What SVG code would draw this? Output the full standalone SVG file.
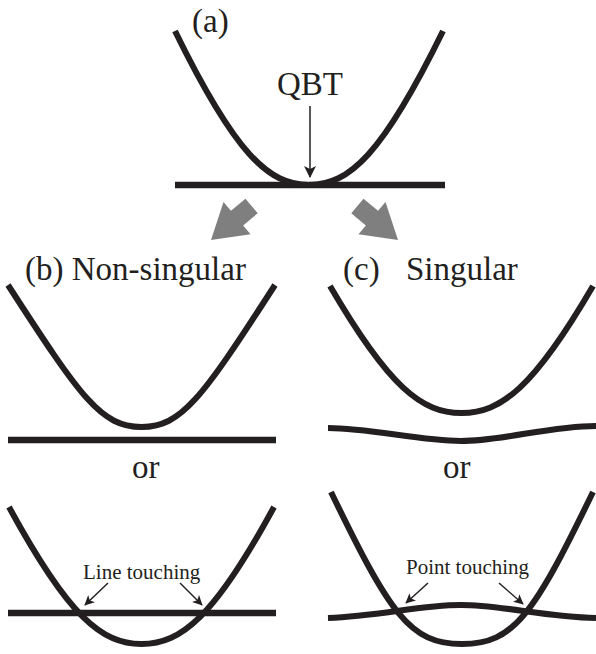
<svg xmlns="http://www.w3.org/2000/svg" width="596" height="654" viewBox="0 0 596 654">
<style>
.curve{fill:none;stroke:#231f20;stroke-width:6;stroke-linecap:butt}
.flat{fill:none;stroke:#231f20;stroke-width:6.5}
.lbl{font-family:"Liberation Serif","Times New Roman",serif;fill:#231f20}
.big{font-size:33px}
.small{font-size:21px}
.thin{fill:none;stroke:#231f20;stroke-width:1.5}
.gray{fill:#7f7f7f}
</style>
<defs>
<marker id="headL" viewBox="0 0 12 12" refX="11" refY="6" markerWidth="12" markerHeight="13" markerUnits="userSpaceOnUse" orient="auto">
<path d="M0,0 L12,6 L0,12 L3,6 z" fill="#231f20"/>
</marker>
<marker id="headS" viewBox="0 0 12 12" refX="11" refY="6" markerWidth="11" markerHeight="10" markerUnits="userSpaceOnUse" orient="auto">
<path d="M0,0 L12,6 L0,12 L3,6 z" fill="#231f20"/>
</marker>
</defs>
<g id="panel-a">
<path class="flat" d="M175,185 L445,185"/>
<path class="curve" d="M175,31 C235.3,154.2 268.8,185 309,185 C349.2,185 382.7,154.2 443,31"/>
<text class="lbl big" x="192" y="32">(a)</text>
<text class="lbl big" x="277" y="95">QBT</text>
</g>
<g id="panel-b-top">
<text class="lbl big" x="25" y="280">(b) Non-singular</text>
<path class="curve" d="M8,285 C81.4,398.6 101.45,427 141.5,427 C181.55,427 201.6,398.6 275,285"/>
<path class="flat" d="M8,440 L276,440"/>
</g>
<g id="panel-c-top">
<text class="lbl big" x="343" y="280">(c)</text>
<text class="lbl big" x="406" y="280">Singular</text>
<path class="curve" d="M330,286 C389.2,387.6 422,413 461.5,413 C501,413 533.8,387.6 593,286"/>
<path class="curve" d="M328,428 C370,428 420,441 461,441 C502,441 550,426 596,426"/>
</g>
<g id="or-b"><text class="lbl big" x="132" y="478">or</text></g>
<g id="or-c"><text class="lbl big" x="443" y="478">or</text></g>
<g id="panel-b-bottom">
<path class="curve" d="M9,507 C68.6,616.6 101.75,644 141.5,644 C181.25,644 214.4,616.6 274,507"/>
<path class="flat" d="M8,613 L276,613"/>
<text class="lbl small" x="83" y="579">Line touching</text>
</g>
<g id="panel-c-bottom">
<path class="curve" d="M331,492 C389.95,613.6 409.6,644 462,644 C514.4,644 534.05,613.6 593,492"/>
<path class="curve" d="M328,618 C380,616 420,605 461,605 C502,605 545,617 596,618"/>
<text class="lbl small" x="406" y="574">Point touching</text>
</g>
<g id="connectors">
<line class="thin" x1="310" y1="106" x2="310" y2="177" marker-end="url(#headL)"/>
<polygon class="gray" points="211,240 223.5,202.05 230.93,210.86 245.49,198.64 257.71,213.2 243.15,225.42 250.54,234.23"/>
<polygon class="gray" points="398,240 385.5,202.05 378.07,210.86 363.51,198.64 351.29,213.2 365.85,225.42 358.46,234.23"/>
<line class="thin" x1="108" y1="583" x2="85" y2="605" marker-end="url(#headS)"/>
<line class="thin" x1="180" y1="583" x2="202" y2="605" marker-end="url(#headS)"/>
<line class="thin" x1="428" y1="583" x2="406" y2="603" marker-end="url(#headS)"/>
<line class="thin" x1="499" y1="583" x2="523" y2="604" marker-end="url(#headS)"/>
</g>
</svg>
